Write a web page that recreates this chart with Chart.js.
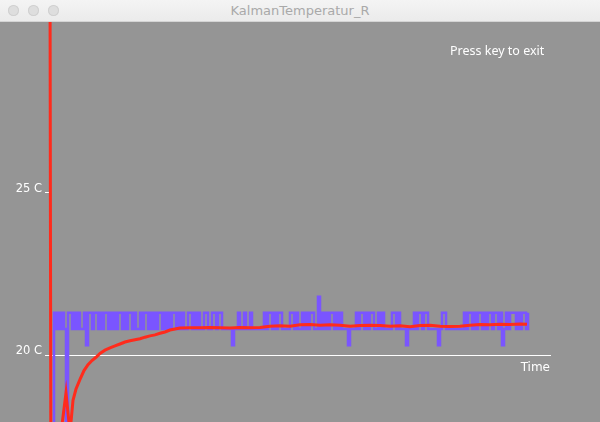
<!DOCTYPE html>
<html>
<head>
<meta charset="utf-8">
<title>KalmanTemperatur_R</title>
<script src="https://cdn.jsdelivr.net/npm/chart.js@4.4.1/dist/chart.umd.min.js"></script>
<style>
  html, body { margin: 0; padding: 0; background: #959595; overflow: hidden; }
  #titlebar {
    position: absolute; left: 0; top: 0; width: 600px; height: 21px;
    background: linear-gradient(#f4f4f4, #ebebeb);
    border-bottom: 1px solid #d4d4d4;
  }
  .dot {
    position: absolute; top: 5px; width: 11px; height: 11px; border-radius: 50%;
    background: #dedede; box-shadow: inset 0 0 0 1px #d0d0d0;
  }
  #title {
    position: absolute; left: 0; top: 3px; width: 600px; text-align: center;
    font: 13px "DejaVu Sans", sans-serif; color: #a9a9a9;
  }
  #plot { position: absolute; left: 0; top: 22px; width: 600px; height: 400px; }
  #hint {
    position: absolute; left: 450px; top: 42px;
    font: 12.5px "Noto Sans", sans-serif; color: #ffffff;
  }
</style>
</head>
<body>
<div id="titlebar">
  <div class="dot" style="left:8px"></div>
  <div class="dot" style="left:28px"></div>
  <div class="dot" style="left:48px"></div>
  <div id="title">KalmanTemperatur_R</div>
</div>
<div id="plot"><canvas id="kalmanCanvas"></canvas></div>
<div id="hint">Press key to exit</div>

<script>
/* raw sensor readings, one per sample (sample n at time n) */
var measuredTemp = [
  15, 21.3, 20.8, 21.3, 20.8, 21.3, 20.8, 15, 21.3, 21.3,
  20.8, 21.3, 20.8, 21.3, 20.8, 20.8, 21.3, 20.3, 21.3,
  21.3, 20.8, 21.3, 21.3, 20.8, 21.3, 20.8, 21.3, 21.3, 20.8,
  21.3, 20.8, 21.3, 20.8, 21.3, 21.3, 20.8, 21.3, 20.8, 21.3,
  21.3, 20.8, 21.3, 20.8, 20.8, 21.3, 20.8, 21.3, 21.3, 20.8,
  21.3, 20.8, 21.3, 20.8, 21.3, 21.3, 20.8, 21.3, 20.8, 21.3,
  20.8, 21.3, 21.3, 20.8, 21.3, 20.8, 21.3, 20.8, 20.8, 21.3,
  21.3, 20.8, 21.3, 20.8, 21.3, 20.8,
  20.8, 21.3, 21.3, 20.8, 20.8, 21.3, 21.3, 20.8, 21.3, 21.3, 20.8,
  20.8, 20.8, 20.8, 20.8, 20.3, 20.8, 20.8, 21.3, 20.8, 20.8,
  21.3, 20.8, 20.8, 21.3, 20.8, 20.8, 20.8, 20.8, 20.8, 20.8,
  21.3, 20.8, 21.3, 21.3, 20.8, 21.3, 20.8, 21.3, 21.3,
  20.8, 20.8, 20.8, 20.8, 21.3, 21.3, 20.8, 21.3, 20.8, 20.8,
  21.3, 20.8, 21.3, 20.8, 21.3, 21.3, 20.8, 20.8, 21.8, 20.8,
  21.3, 20.8, 21.3, 20.8, 21.3, 21.3, 20.8, 21.3, 20.8, 21.3,
  20.8, 20.8, 20.8, 20.3, 20.8, 20.8, 20.8,
  21.3, 20.8, 21.3, 21.3, 20.8, 21.3, 20.8, 21.3, 21.3, 20.8, 20.8,
  21.3, 20.8, 21.3, 20.8, 20.8, 20.8, 20.8, 21.3, 21.3, 20.8,
  21.3, 20.8, 20.8, 20.8, 20.3, 20.8, 20.8, 20.8,
  21.3, 20.8, 21.3, 21.3, 20.8, 21.3, 21.3,
  20.8, 20.8, 20.8, 20.8, 20.8, 20.3, 20.8, 21.3, 21.3,
  20.8, 20.8, 20.8, 20.8, 20.8, 20.8, 20.8, 20.8, 20.8,
  21.3, 20.8, 21.3, 21.3, 20.8, 21.3, 20.8, 21.3, 21.3, 20.8,
  21.3, 20.8, 21.3, 21.3, 20.8,
  21.3, 21.3, 20.8, 21.3, 20.3, 20.8,
  21.3, 20.8, 21.3, 21.3, 21.3, 20.8,
  21.3, 20.8, 21.3, 21.3, 20.8, 21.3
];

/* Kalman estimate */
var filteredTime = [
  0, 0.5, 5.5, 8, 10, 11.5, 13, 15, 17, 19, 21, 23, 25, 27.5, 30, 32.5, 35,
  37.5, 40, 42.5, 45, 47.5, 50, 52.5, 55, 57.5, 60, 62.5, 65, 70, 75, 80,
  85, 90, 95, 100, 105, 110, 115, 120, 125, 130, 135, 140, 145, 150, 155,
  160, 165, 170, 175, 180, 185, 190, 195, 200, 205, 210, 215, 220, 225,
  230, 235, 238.5
];
var filteredTemp = [
  32, 14, 17.6, 18.83, 17.6, 18.6, 18.95, 19.25, 19.52, 19.7, 19.83, 19.93,
  20.05, 20.15, 20.22, 20.28, 20.34, 20.40, 20.44, 20.47, 20.50, 20.55,
  20.59, 20.62, 20.67, 20.71, 20.77, 20.80, 20.83, 20.84, 20.84, 20.85,
  20.84, 20.83, 20.85, 20.84, 20.85, 20.89, 20.90, 20.89, 20.93, 20.94,
  20.92, 20.93, 20.92, 20.89, 20.91, 20.92, 20.91, 20.89, 20.90, 20.87,
  20.91, 20.92, 20.89, 20.88, 20.89, 20.92, 20.94, 20.93, 20.95, 20.94,
  20.96, 20.95
];

var yTicks = [20, 25];
var yUnit = ' C';

function loadKalmanChart() {
    var ctx = document.getElementById('kalmanCanvas').getContext('2d');

    var measuredPoints = measuredTemp.map(function (v, i) { return { x: i + 1, y: v }; });
    var filteredPoints = filteredTime.map(function (t, i) { return { x: t, y: filteredTemp[i] }; });

    var config = {
        type: 'line',
        data: {
            datasets: [{
                label: 'Kalman',
                data: filteredPoints,
                borderColor: '#ff2b1c',
                borderWidth: 3,
                pointRadius: 0,
                clip: false
            }, {
                label: 'Measured',
                data: measuredPoints,
                borderColor: '#7a55ff',
                borderWidth: 2.5,
                pointRadius: 0,
                stepped: true,
                clip: false
            }]
        },
        options: {
            responsive: true,
            maintainAspectRatio: false,
            animation: false,
            events: [],
            layout: { padding: { top: 0, left: 0, right: 50, bottom: 0 } },
            plugins: {
                legend: { display: false },
                tooltip: { enabled: false }
            },
            scales: {
                x: {
                    type: 'linear',
                    min: 0,
                    max: 250,
                    grid: { display: false },
                    border: { display: true, color: '#ffffff', width: 1 },
                    ticks: { display: false },
                    title: {
                        display: true,
                        text: 'Time',
                        align: 'end',
                        color: '#ffffff',
                        font: { family: 'DejaVu Sans', size: 12 },
                        padding: { top: 0, bottom: 47 }
                    },
                    afterFit: function (scale) { scale.height = 67; }
                },
                y: {
                    min: 20,
                    max: 29.97,
                    afterBuildTicks: function (scale) {
                        scale.ticks = yTicks.map(function (v) { return { value: v }; });
                    },
                    afterFit: function (scale) { scale.width = 50; },
                    grid: {
                        drawOnChartArea: false,
                        drawTicks: true,
                        tickLength: 5,
                        color: '#ffffff'
                    },
                    border: { display: false },
                    ticks: {
                        color: '#ffffff',
                        padding: 3,
                        labelOffset: -4,
                        font: { family: 'DejaVu Sans', size: 11.5 },
                        callback: function (v) { return v + yUnit; }
                    }
                }
            }
        }
    };

    var chart = new Chart(ctx, config);
}

loadKalmanChart();
</script>
</body>
</html>
